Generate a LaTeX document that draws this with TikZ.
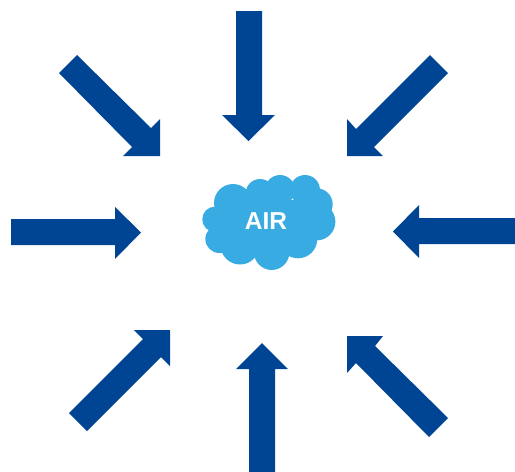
\documentclass[tikz,border=0pt]{standalone}
\usepackage{fontspec}
\setmainfont{Liberation Sans}
\definecolor{arrowblue}{HTML}{004494}
\definecolor{cloudblue}{HTML}{38ACE2}
\tikzset{
  bigarrow/.style={fill=arrowblue,draw=none},
  cloudpart/.style={fill=cloudblue,draw=none},
  airlabel/.style={text=white,font=\fontsize{24.5}{26}\selectfont\bfseries,inner sep=0pt}
}
\begin{document}
\begin{tikzpicture}[x=1pt,y=-1pt]
\useasboundingbox (0,0) rectangle (515,472);
% arrows
\fill[bigarrow] (236,11) -- (262,11) -- (262,115) -- (275,115) -- (248.5,141) -- (222,115) -- (236,115) -- cycle;
\fill[bigarrow] (11,219) -- (115,219) -- (115,207) -- (141,232.5) -- (115,259) -- (115,245) -- (11,245) -- cycle;
\fill[bigarrow] (515,218) -- (419,218) -- (419,205) -- (393,231.5) -- (419,258) -- (419,244) -- (515,244) -- cycle;
\fill[bigarrow] (249,472) -- (249,369) -- (236,369) -- (262,343) -- (288,369) -- (275,369) -- (275,472) -- cycle;
\fill[bigarrow] (77,55) -- (151,128) -- (160,119) -- (160,156) -- (123,156) -- (132,147) -- (59,73) -- cycle;
\fill[bigarrow] (430,55) -- (356,129) -- (347,119) -- (347,156) -- (383,156) -- (374,147) -- (448,73) -- cycle;
\fill[bigarrow] (87,431) -- (161,357) -- (170,366) -- (170,330) -- (134,330) -- (143,339) -- (69,413) -- cycle;
\fill[bigarrow] (429,437) -- (356,363) -- (347,373) -- (347,336) -- (383,336) -- (375,346) -- (448,418) -- cycle;
% cloud
\fill[cloudpart] (215,219.3) circle (12.7);
\fill[cloudpart] (219.3,239) circle (14);
\fill[cloudpart] (233,203) circle (19);
\fill[cloudpart] (260,193.3) circle (14.3);
\fill[cloudpart] (280,190) circle (15);
\fill[cloudpart] (305,190) circle (15);
\fill[cloudpart] (316.7,204.3) circle (16);
\fill[cloudpart] (316.7,221.7) circle (18.7);
\fill[cloudpart] (298,239) circle (19.3);
\fill[cloudpart] (271.7,252.3) circle (17.7);
\fill[cloudpart] (240,245) circle (19.5);
\fill[cloudpart] (225,200) rectangle (310,245);
\node[airlabel] (air) at (266,221.5) {AIR};
\end{tikzpicture}
\end{document}
